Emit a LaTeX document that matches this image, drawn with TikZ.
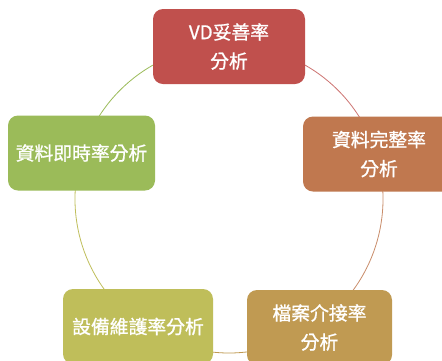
\documentclass[tikz,border=0pt]{standalone}
\usepackage{fontspec}
\usetikzlibrary{calc}
\newfontfamily\cjk[FakeBold=1]{Noto Sans CJK TC}
\definecolor{cTop}{HTML}{C0504D}
\definecolor{cRight}{HTML}{C0784F}
\definecolor{cBR}{HTML}{C09A52}
\definecolor{cBL}{HTML}{BFBE5A}
\definecolor{cLeft}{HTML}{9BBB59}
\tikzset{
  boxnode/.style={rounded corners=10pt, minimum height=75pt, align=center, text=white,
    font=\cjk\fontsize{18.8}{29}\selectfont, inner sep=0pt},
  ring/.style={line width=0.8pt}
}
\begin{document}
\begin{tikzpicture}[x=1pt,y=-1pt]
\clip (0,0) rectangle (442,360);
\fill[white] (0,0) rectangle (442,360);
\coordinate (c) at (229,199);
% ring segments (angles negated because y axis points down)
\draw[ring, cTop!80] ($(c)+(-90:154)$) arc[start angle=-90, end angle=-18, radius=154];
\draw[ring, cRight!85] ($(c)+(-18:154)$) arc[start angle=-18, end angle=54, radius=154];
\draw[ring, cBR] ($(c)+(54:154)$) arc[start angle=54, end angle=126, radius=154];
\draw[ring, cBL] ($(c)+(126:154)$) arc[start angle=126, end angle=198, radius=154];
\draw[ring, cLeft] ($(c)+(198:154)$) arc[start angle=198, end angle=270, radius=154];
% boxes
\node[boxnode, fill=cTop, minimum width=152pt] (top) at (229,46.5) {VD妥善率\\分析};
\node[boxnode, fill=cRight, minimum width=152pt] (right) at (379,154) {資料完整率\\分析};
\node[boxnode, fill=cLeft, minimum width=147pt] (left) at (81.5,153) {資料即時率分析};
\node[boxnode, fill=cBL, minimum width=150pt] (bl) at (138,326.5) {設備維護率分析};
\node[boxnode, fill=cBR, minimum width=145pt] (br) at (319.5,327.5) {檔案介接率\\分析};
\end{tikzpicture}
\end{document}
